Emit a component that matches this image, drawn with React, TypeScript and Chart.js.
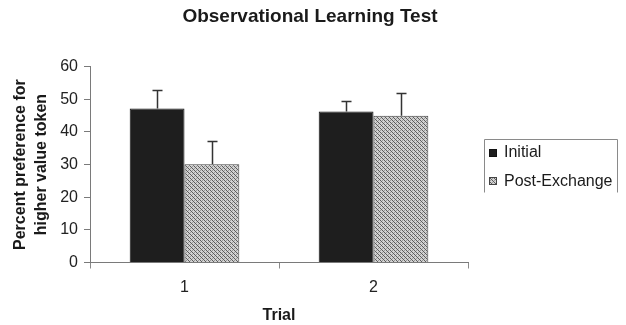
import React, { useEffect, useRef } from "react";
import { Chart, registerables } from "chart.js";

Chart.register(...registerables);

// ---- data ----
const categories = ["1", "2"];
const seriesNames = ["Initial", "Post-Exchange"];
const initialValues = [47.2, 46.3];
const postValues = [30.1, 45.0];
const initialErrors = [5.5, 3.0];
const postErrors = [7.0, 6.8];
const yTicks = [0, 10, 20, 30, 40, 50, 60];
const chartTitle = "Observational Learning Test";
const yTitle = ["Percent preference for", "higher value token"];
const xTitle = "Trial";

const FONT = "'Liberation Sans', Arial, sans-serif";

function makePattern(ctx: CanvasRenderingContext2D): CanvasPattern | string {
  const c = document.createElement("canvas");
  c.width = 4;
  c.height = 4;
  const p = c.getContext("2d");
  if (!p) return "#b0b0b0";
  p.fillStyle = "#d2d2d2";
  p.fillRect(0, 0, 4, 4);
  p.fillStyle = "#5c5c5c";
  for (let i = 0; i < 4; i++) p.fillRect(i, i, 1, 1);
  p.fillStyle = "#9a9a9a";
  p.fillRect(2, 0, 1, 1);
  p.fillRect(0, 2, 1, 1);
  return ctx.createPattern(c, "repeat") || "#b0b0b0";
}

export default function App() {
  const ref = useRef<HTMLCanvasElement | null>(null);

  useEffect(() => {
    const canvas = ref.current;
    if (!canvas) return;
    const ctx2d = canvas.getContext("2d") as CanvasRenderingContext2D;
    const pattern = makePattern(ctx2d);
    const errorsByDataset = [initialErrors, postErrors];

    const errorBarPlugin = {
      id: "errorBars",
      afterDatasetsDraw(chart: any) {
        const { ctx } = chart;
        const yScale = chart.scales.y;
        chart.data.datasets.forEach((ds: any, i: number) => {
          const meta = chart.getDatasetMeta(i);
          const errs = errorsByDataset[i];
          meta.data.forEach((el: any, j: number) => {
            const v = ds.data[j] as number;
            const top = yScale.getPixelForValue(v + errs[j]);
            const x = Math.round(el.x) + 0.5;
            ctx.save();
            ctx.strokeStyle = "#333";
            ctx.lineWidth = 1.5;
            ctx.beginPath();
            ctx.moveTo(x, el.y);
            ctx.lineTo(x, top);
            ctx.moveTo(x - 5, top);
            ctx.lineTo(x + 5, top);
            ctx.stroke();
            ctx.restore();
          });
        });
      },
    };

    const chromePlugin = {
      id: "chrome",
      afterDraw(chart: any) {
        const { ctx } = chart;
        ctx.save();
        // title
        ctx.fillStyle = "#1a1a1a";
        ctx.font = `bold 19px ${FONT}`;
        ctx.textAlign = "center";
        ctx.textBaseline = "middle";
        ctx.fillText(chartTitle, 302, 9);

        // legend box
        const bx = 476.5, by = 131.5, bw = 133, bh = 53;
        ctx.strokeStyle = "#8a8a8a";
        ctx.lineWidth = 1;
        ctx.beginPath();
        ctx.moveTo(bx, by + bh);
        ctx.lineTo(bx, by);
        ctx.lineTo(bx + bw, by);
        ctx.lineTo(bx + bw, by + bh);
        ctx.stroke();

        ctx.font = `16px ${FONT}`;
        ctx.textAlign = "left";
        ctx.textBaseline = "middle";
        const rows = [144.7, 173.3];
        chart.data.datasets.forEach((ds: any, i: number) => {
          const cy = rows[i];
          ctx.fillStyle = ds.backgroundColor;
          ctx.fillRect(481, Math.round(cy - 4), 8, 8);
          ctx.strokeStyle = ds.borderColor;
          ctx.strokeRect(481.5, Math.round(cy - 4) + 0.5, 7, 7);
          ctx.fillStyle = "#1a1a1a";
          ctx.fillText(ds.label, 496, cy);
        });
        ctx.restore();
      },
    };

    const chart = new Chart(canvas, {
      type: "bar",
      data: {
        labels: categories,
        datasets: [
          {
            label: seriesNames[0],
            data: initialValues,
            backgroundColor: "#1e1e1e",
            borderColor: "#111111",
            borderWidth: 1,
            categoryPercentage: 0.58,
            barPercentage: 1.0,
          },
          {
            label: seriesNames[1],
            data: postValues,
            backgroundColor: pattern as any,
            borderColor: "#444444",
            borderWidth: 1,
            categoryPercentage: 0.58,
            barPercentage: 1.0,
          },
        ],
      },
      options: {
        responsive: false,
        animation: false,
        layout: { padding: { top: 58.7, right: 150, bottom: 0, left: 0 } },
        plugins: {
          legend: { display: false },
          title: { display: false },
          tooltip: { enabled: false },
        },
        scales: {
          x: {
            grid: {
              display: true,
              drawOnChartArea: false,
              drawTicks: true,
              tickLength: 6,
              color: "#8a8a8a",
              offset: true,
            },
            border: { display: true, color: "#7a7a7a", width: 1 },
            ticks: {
              color: "#222",
              font: { family: FONT, size: 16 },
              padding: 9,
            },
            title: {
              display: true,
              text: xTitle,
              color: "#1a1a1a",
              font: { family: FONT, size: 16, weight: "bold", lineHeight: 1.2 },
              padding: { top: 0, bottom: 0 },
            },
            afterFit(scale: any) {
              scale.height = 62.5;
            },
          },
          y: {
            min: 0,
            max: 60,
            ticks: {
              stepSize: 10,
              color: "#222",
              font: { family: FONT, size: 16 },
              padding: 6,
            },
            afterBuildTicks(scale: any) {
              scale.ticks = yTicks.map((v) => ({ value: v }));
            },
            grid: {
              display: true,
              drawOnChartArea: false,
              drawTicks: true,
              tickLength: 6,
              color: "#7a7a7a",
            },
            border: { display: true, color: "#7a7a7a", width: 1 },
            title: {
              display: true,
              text: yTitle,
              color: "#1a1a1a",
              font: { family: FONT, size: 16, weight: "bold", lineHeight: 1.3 },
              padding: { top: 2, bottom: 0 },
            },
            afterFit(scale: any) {
              scale.width = 82;
            },
          },
        },
      },
      plugins: [errorBarPlugin, chromePlugin],
    });

    return () => chart.destroy();
  }, []);

  return (
    <canvas
      ref={ref}
      width={610}
      height={317}
      style={{ display: "block", width: 610, height: 317 }}
    />
  );
}
